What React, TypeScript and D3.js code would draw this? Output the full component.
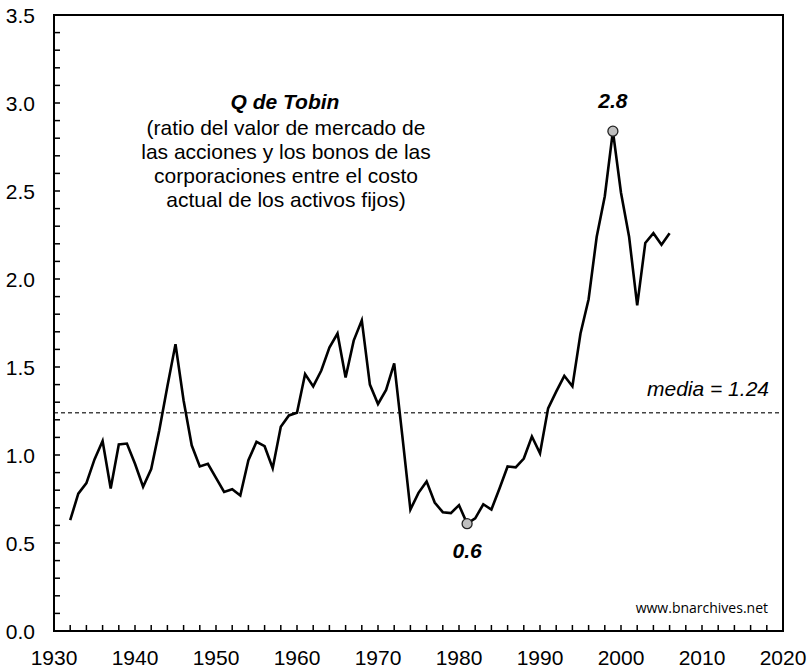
import React from "react";
import * as d3 from "d3";

const years: number[] = [
  1932, 1933, 1934, 1935, 1936, 1937, 1938, 1939, 1940, 1941, 1942, 1943, 1944, 1945, 1946, 1947, 1948, 1949,
  1950, 1951, 1952, 1953, 1954, 1955, 1956, 1957, 1958, 1959, 1960, 1961, 1962, 1963, 1964, 1965, 1966, 1967,
  1968, 1969, 1970, 1971, 1972, 1973, 1974, 1975, 1976, 1977, 1978, 1979, 1980, 1981, 1982, 1983, 1984, 1985,
  1986, 1987, 1988, 1989, 1990, 1991, 1992, 1993, 1994, 1995, 1996, 1997, 1998, 1999, 2000, 2001, 2002, 2003,
  2004, 2005, 2006,
];
const qValues: number[] = [
  0.63, 0.78, 0.84, 0.975, 1.08, 0.81, 1.06, 1.065, 0.95, 0.82, 0.92, 1.14, 1.39, 1.63, 1.31, 1.055, 0.935, 0.95,
  0.87, 0.79, 0.805, 0.77, 0.97, 1.075, 1.05, 0.925, 1.16, 1.225, 1.24, 1.46, 1.39, 1.48, 1.61, 1.69, 1.44, 1.65,
  1.765, 1.4, 1.29, 1.37, 1.52, 1.11, 0.69, 0.785, 0.85, 0.73, 0.675, 0.67, 0.715, 0.61, 0.64, 0.72, 0.69, 0.81,
  0.935, 0.93, 0.98, 1.105, 1.01, 1.265, 1.36, 1.45, 1.39, 1.69, 1.885, 2.24, 2.47, 2.84, 2.49, 2.24, 1.85, 2.205,
  2.26, 2.195, 2.26,
];
const meanValue = 1.24;
const yTickValues: number[] = [0, 0.5, 1, 1.5, 2, 2.5, 3, 3.5];
const xTickValues: number[] = [1930, 1940, 1950, 1960, 1970, 1980, 1990, 2000, 2010, 2020];
const titleLines: string[] = [
  "(ratio del valor de mercado de",
  "las acciones y los bonos de las",
  "corporaciones entre el costo",
  "actual de los activos fijos)",
];
const highlights: { year: number; value: number; label: string; dy: number }[] = [
  { year: 1999, value: 2.84, label: "2.8", dy: -23 },
  { year: 1981, value: 0.61, label: "0.6", dy: 34 },
];

const W = 808;
const H = 668;
const left = 54;
const right = 783;
const top = 15;
const bottom = 631;

export default function App() {
  const x = d3.scaleLinear().domain([1930, 2020]).range([left, right]);
  const y = d3.scaleLinear().domain([0, 3.5]).range([bottom, top]);
  const line = d3
    .line<number>()
    .x((_, i) => x(years[i]))
    .y((v) => y(v));
  const minorY = d3.range(0, 35).map((i) => i / 10);
  const minorX = d3.range(1930, 2021, 2);
  const font = "Liberation Sans, Arial, sans-serif";

  return (
    <svg width={W} height={H} style={{ position: "absolute", left: 0, top: 0 }} fontFamily={font}>
      <rect x={0} y={0} width={W} height={H} fill="#fff" />
      {/* mean line */}
      <line x1={left} x2={right} y1={y(meanValue)} y2={y(meanValue)} stroke="#444" strokeWidth={1.3} strokeDasharray="4,3" />
      <text x={769} y={y(meanValue) - 17} textAnchor="end" fontSize={21} fontStyle="italic" fill="#000">
        media = 1.24
      </text>
      {/* series */}
      <path d={line(qValues) || ""} fill="none" stroke="#000" strokeWidth={2.6} strokeLinejoin="miter" />
      {highlights.map((h) => (
        <g key={h.label}>
          <circle cx={x(h.year)} cy={y(h.value)} r={5} fill="#bfbfbf" stroke="#222" strokeWidth={1.3} />
          <text x={x(h.year)} y={y(h.value) + h.dy} textAnchor="middle" fontSize={21} fontWeight="bold" fontStyle="italic">
            {h.label}
          </text>
        </g>
      ))}
      {/* frame */}
      <rect x={left} y={top} width={right - left} height={bottom - top} fill="none" stroke="#000" strokeWidth={2} />
      {/* ticks */}
      {minorY.map((v) => (
        <line key={"yt" + v} x1={left} x2={left + 6} y1={y(v)} y2={y(v)} stroke="#000" strokeWidth={1.5} />
      ))}
      {minorX.map((v) => (
        <line key={"xt" + v} x1={x(v)} x2={x(v)} y1={bottom} y2={bottom - 6} stroke="#000" strokeWidth={1.5} />
      ))}
      {yTickValues.map((v) => (
        <text key={"yl" + v} x={35} y={y(v) + 8} textAnchor="end" fontSize={21}>
          {v.toFixed(1)}
        </text>
      ))}
      {xTickValues.map((v) => (
        <text key={"xl" + v} x={x(v)} y={665} textAnchor="middle" fontSize={21}>
          {v}
        </text>
      ))}
      {/* title */}
      <text x={285} y={109} textAnchor="middle" fontSize={21} fontWeight="bold" fontStyle="italic">
        Q de Tobin
      </text>
      {titleLines.map((t, i) => (
        <text key={t} x={286} y={134.5 + i * 24.3} textAnchor="middle" fontSize={21}>
          {t}
        </text>
      ))}
      <text x={768} y={613} textAnchor="end" fontSize={14} fontFamily="Open Sans, sans-serif">
        www.bnarchives.net
      </text>
    </svg>
  );
}
